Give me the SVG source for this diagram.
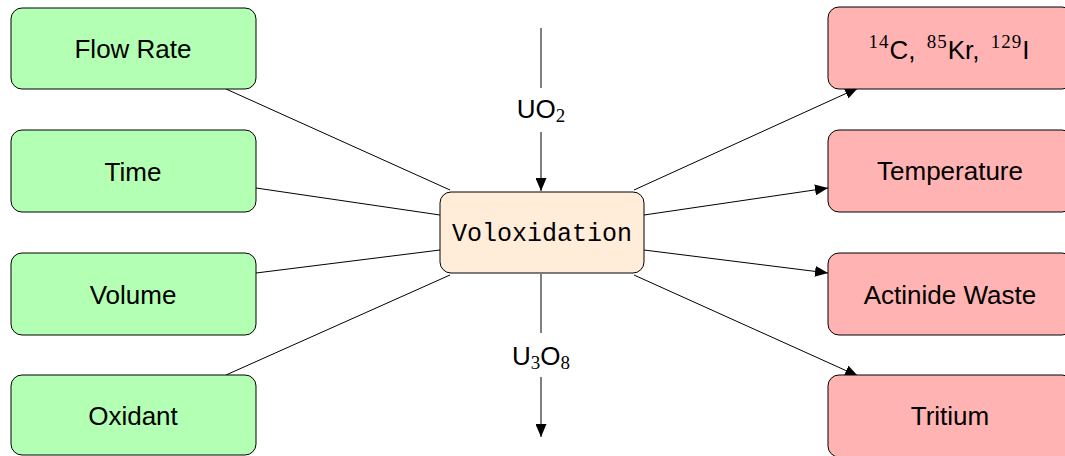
<svg xmlns="http://www.w3.org/2000/svg" width="1065" height="456" viewBox="0 0 1065 456">
<style>
.in{fill:#b3ffb3;stroke:#000;stroke-width:1}
.out{fill:#ffb3b3;stroke:#000;stroke-width:1}
.mid{fill:#ffecd9;stroke:#000;stroke-width:1}
.t{font-family:"Liberation Sans","DejaVu Sans",sans-serif;font-size:26px;text-anchor:middle;fill:#000}
.m{font-family:"Liberation Mono","DejaVu Sans Mono",monospace;font-size:25px;text-anchor:middle;fill:#000}
.c line{stroke:#000;stroke-width:1}
.sub{font-size:19px;font-family:"Liberation Serif","DejaVu Serif",serif}
.sup{font-size:19px;font-family:"Liberation Serif","DejaVu Serif",serif;letter-spacing:1px}
</style>
<defs>
<marker id="ah" viewBox="0 0 13 11" refX="13" refY="5.5" markerWidth="13" markerHeight="11" markerUnits="userSpaceOnUse" orient="auto">
<path d="M0,0 L13,5.5 L0,11 Z" fill="#000"/>
</marker>
</defs>
<g class="c" id="connectors">
<line x1="226" y1="89" x2="450" y2="190"/>
<line x1="256" y1="188" x2="440" y2="215"/>
<line x1="256" y1="273" x2="440" y2="250"/>
<line x1="226" y1="375" x2="450" y2="275"/>
<line x1="634" y1="190" x2="858" y2="88" marker-end="url(#ah)"/>
<line x1="644" y1="215" x2="828" y2="188" marker-end="url(#ah)"/>
<line x1="644" y1="250" x2="828" y2="273" marker-end="url(#ah)"/>
<line x1="634" y1="275" x2="858" y2="376" marker-end="url(#ah)"/>
<line x1="541" y1="28" x2="541" y2="88"/>
<line x1="541" y1="132" x2="541" y2="191" marker-end="url(#ah)"/>
<line x1="541" y1="274" x2="541" y2="333"/>
<line x1="541" y1="377" x2="541" y2="437" marker-end="url(#ah)"/>
<text class="t" x="541" y="118">UO<tspan class="sub" dy="4">2</tspan></text>
<text class="t" x="541" y="365">U<tspan class="sub" dy="4">3</tspan><tspan dy="-4">O</tspan><tspan class="sub" dy="4">8</tspan></text>
</g>
<g id="flowrate"><rect class="in" x="11" y="8" width="245" height="81" rx="11"/><text class="t" x="133" y="58">Flow Rate</text></g>
<g id="time"><rect class="in" x="11" y="130" width="245" height="82" rx="11"/><text class="t" x="133" y="181">Time</text></g>
<g id="volume"><rect class="in" x="11" y="253" width="245" height="82" rx="11"/><text class="t" x="133" y="304">Volume</text></g>
<g id="oxidant"><rect class="in" x="11" y="375" width="245" height="80" rx="11"/><text class="t" x="133" y="425">Oxidant</text></g>
<g id="voloxidation"><rect class="mid" x="440" y="192" width="204" height="81" rx="11"/><text class="m" x="542" y="241">Voloxidation</text></g>
<g id="isotopes"><rect class="out" x="828" y="7" width="245" height="82" rx="11"/><text class="t" x="949" y="59"><tspan class="sup" dy="-11">14</tspan><tspan dy="11">C, </tspan><tspan class="sup" dx="4" dy="-11">85</tspan><tspan dy="11">Kr, </tspan><tspan class="sup" dx="4" dy="-11">129</tspan><tspan dy="11">I</tspan></text></g>
<g id="temperature"><rect class="out" x="828" y="130" width="245" height="82" rx="11"/><text class="t" x="950" y="180">Temperature</text></g>
<g id="actinide"><rect class="out" x="828" y="253" width="245" height="82" rx="11"/><text class="t" x="950" y="304">Actinide Waste</text></g>
<g id="tritium"><rect class="out" x="828" y="375" width="245" height="82" rx="11"/><text class="t" x="950" y="425">Tritium</text></g>
</svg>
